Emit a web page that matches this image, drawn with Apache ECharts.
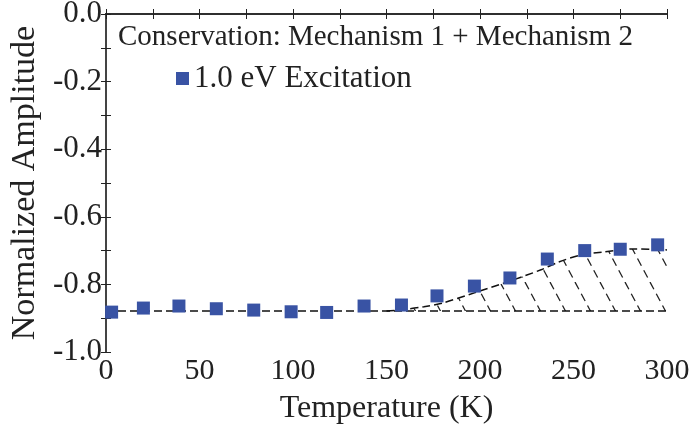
<!DOCTYPE html>
<html>
<head>
<meta charset="utf-8">
<script src="https://cdn.jsdelivr.net/npm/echarts@6/dist/echarts.min.js"></script>
<style>html,body{margin:0;padding:0;background:#fff;}#chart{width:689px;height:425px;}</style>
</head>
<body>
<div id="chart"></div>
<script>
// Measured data (Temperature K, Normalized Amplitude)
var temps = [3, 20, 39, 59, 79, 99, 118, 138, 158, 177, 197, 216, 236, 256, 275, 295];
var amps = [-0.882, -0.870, -0.864, -0.872, -0.876, -0.881, -0.883, -0.864, -0.861, -0.834, -0.805, -0.781, -0.725, -0.700, -0.696, -0.683];
// Mechanism 1 baseline (constant level)
var baseT = [0, 300];
var baseLevel = -0.879;
// Mechanism 1 + 2 conservation curve
var curveT = [150, 160, 170, 180, 197, 215, 233, 242, 254, 266, 283, 300];
var curveA = [-0.879, -0.874, -0.866, -0.855, -0.825, -0.792, -0.756, -0.734, -0.713, -0.704, -0.695, -0.698];
var xTicks = [0, 50, 100, 150, 200, 250, 300];
var yTicks = [-1.0, -0.8, -0.6, -0.4, -0.2, 0.0];

var FONT = '"Liberation Serif", "Times New Roman", serif';

function hatchPattern() {
  var w = 25, h = 47;
  var c = document.createElement('canvas');
  c.width = w; c.height = h;
  var ctx = c.getContext('2d');
  ctx.strokeStyle = '#222';
  ctx.lineWidth = 1.3;
  var L = Math.sqrt(w * w + h * h);
  ctx.setLineDash([L / 4 * 0.62, L / 4 * 0.38]);
  for (var k = -1; k <= 1; k++) {
    ctx.beginPath();
    ctx.moveTo(k * w, 0);
    ctx.lineTo(k * w + w, h);
    ctx.stroke();
  }
  return c;
}

var chart = echarts.init(document.getElementById('chart'), null, {renderer: 'canvas'});
var axisLine = {show: true, lineStyle: {color: '#222', width: 1.5}};
var tick = {show: true, inside: true, length: 5, lineStyle: {color: '#222'}};
var minor = {show: true, splitNumber: 2, length: 5, lineStyle: {color: '#222'}};
var option = {
  animation: false,
  backgroundColor: '#fff',
  title: {
    text: 'Conservation: Mechanism 1 + Mechanism 2',
    left: 113, top: 18,
    textStyle: {fontFamily: FONT, fontSize: 29, fontWeight: 'normal', color: '#222'}
  },
  legend: {
    data: ['1.0 eV Excitation'],
    left: 171, top: 58,
    icon: 'rect', itemWidth: 13, itemHeight: 13, itemGap: 8,
    textStyle: {fontFamily: FONT, fontSize: 31, color: '#222'}
  },
  grid: {left: 106, right: 22, top: 14, bottom: 73, outerBoundsMode: 'none', containLabel: false},
  xAxis: [{
    type: 'value', min: 0, max: 300, interval: 50,
    name: 'Temperature (K)', nameLocation: 'middle', nameGap: 41,
    nameTextStyle: {fontFamily: FONT, fontSize: 32, color: '#222'},
    axisLine: axisLine, axisTick: tick, minorTick: minor,
    axisLabel: {fontFamily: FONT, fontSize: 30, color: '#222', margin: 4,
      formatter: function (v) { return xTicks.indexOf(v) >= 0 ? String(v) : ''; }},
    splitLine: {show: false}
  }, {
    type: 'value', min: 0, max: 300, interval: 50, position: 'top',
    axisLine: axisLine, axisTick: tick, minorTick: minor,
    axisLabel: {show: false}, splitLine: {show: false}
  }],
  yAxis: [{
    type: 'value', min: -1, max: 0, interval: 0.2,
    name: 'Normalized Amplitude', nameLocation: 'middle', nameGap: 57,
    nameTextStyle: {fontFamily: FONT, fontSize: 34, color: '#222'},
    axisLine: axisLine, axisTick: tick, minorTick: minor,
    axisLabel: {fontFamily: FONT, fontSize: 31, color: '#222', margin: 4,
      formatter: function (v) {
        for (var i = 0; i < yTicks.length; i++) { if (Math.abs(yTicks[i] - v) < 1e-6) return yTicks[i].toFixed(1); }
        return '';
      }},
    splitLine: {show: false}
  }, {
    type: 'value', min: -1, max: 0, interval: 0.2, position: 'right',
    axisLine: {show: true, lineStyle: {color: '#444', width: 2}},
    axisTick: tick, minorTick: minor,
    axisLabel: {show: false}, splitLine: {show: false}
  }],
  series: [{
    name: 'baseline', type: 'line', silent: true, symbol: 'none',
    data: baseT.map(function (t) { return [t, baseLevel]; }),
    lineStyle: {color: '#111', width: 1.5, type: [8, 4]}, z: 2
  }, {
    name: 'conservation', type: 'line', silent: true, symbol: 'none', smooth: 0.3,
    data: curveT.map(function (t, i) { return [t, curveA[i]]; }),
    lineStyle: {color: '#111', width: 1.5, type: [8, 4]},
    areaStyle: {origin: baseLevel, color: {image: hatchPattern(), repeat: 'repeat'}, opacity: 1},
    z: 2
  }, {
    name: '1.0 eV Excitation', type: 'scatter', symbol: 'rect', symbolSize: 13,
    data: temps.map(function (t, i) { return [t, amps[i]]; }),
    itemStyle: {color: '#3953a4', opacity: 1}, z: 5
  }]
};
chart.setOption(option);
</script>
</body>
</html>
